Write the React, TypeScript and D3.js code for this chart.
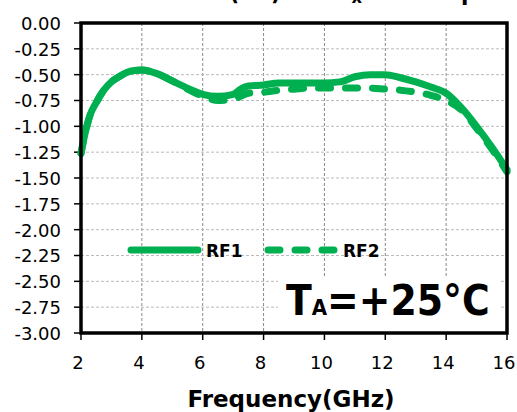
import React from "react";
import * as d3 from "d3";

const freqs = [2, 2.15, 2.3, 2.5, 2.75, 3, 3.25, 3.5, 3.75, 4, 4.5, 5, 5.5, 6, 6.5, 7, 7.25, 7.5, 8, 8.5, 9, 9.5, 10, 10.5, 11, 11.5, 12, 12.5, 13, 13.5, 14, 14.5, 15, 15.5, 16];
const rf1 = [-1.26, -1.05, -0.89, -0.77, -0.65, -0.57, -0.52, -0.48, -0.46, -0.455, -0.49, -0.56, -0.63, -0.69, -0.71, -0.69, -0.64, -0.61, -0.6, -0.58, -0.58, -0.58, -0.58, -0.57, -0.52, -0.5, -0.5, -0.53, -0.57, -0.62, -0.68, -0.82, -1.0, -1.2, -1.42];
const rf2 = [-1.26, -1.05, -0.89, -0.77, -0.65, -0.57, -0.52, -0.48, -0.46, -0.455, -0.49, -0.56, -0.64, -0.71, -0.75, -0.74, -0.71, -0.68, -0.67, -0.65, -0.64, -0.63, -0.63, -0.63, -0.63, -0.63, -0.64, -0.65, -0.67, -0.7, -0.75, -0.84, -1.02, -1.22, -1.44];

const xTicks = [2, 4, 6, 8, 10, 12, 14, 16];
const yTicks = [0, -0.25, -0.5, -0.75, -1, -1.25, -1.5, -1.75, -2, -2.25, -2.5, -2.75, -3];

const W = 517;
const H = 412;
const green = "#00B050";
const font = "'DejaVu Sans', Verdana, sans-serif";
const fontCond = "'DejaVu Sans Condensed', 'DejaVu Sans', sans-serif";

export default function App() {
  const x = d3.scaleLinear().domain([2, 16]).range([81, 507]);
  const y = d3.scaleLinear().domain([0, -3]).range([23, 333]);

  const line = d3
    .line<number>()
    .x((_, i) => x(freqs[i]))
    .y((d) => y(d))
    .curve(d3.curveMonotoneX);

  const [x0, x1] = x.range();
  const [y0, y1] = y.range();

  return (
    <svg width={W} height={H} style={{ position: "absolute", left: 0, top: 0, background: "#fff" }}>
      {/* title, cut off by the top edge as in the source image */}
      <text x={58} y={0} fontFamily={fontCond} fontWeight="bold" fontSize={24} fill="#000">
        Insertion Loss(dB) of RF<tspan fontSize={18} dy={3}>x</tspan>
        <tspan dy={-3}> vs. Temp</tspan>
      </text>

      {/* grid */}
      {xTicks.slice(1, -1).map((t) => (
        <line key={"gx" + t} x1={x(t)} x2={x(t)} y1={y0} y2={y1} stroke="#888" strokeWidth={1} strokeDasharray="3,2" />
      ))}
      {yTicks.slice(1, -1).map((t) => (
        <line key={"gy" + t} x1={x0} x2={x1} y1={y(t)} y2={y(t)} stroke="#bbb" strokeWidth={1} strokeDasharray="3,2" />
      ))}

      {/* ticks */}
      {yTicks.map((t) => (
        <g key={"ty" + t}>
          <line x1={x0 - 7} x2={x0} y1={y(t)} y2={y(t)} stroke="#000" strokeWidth={1.5} />
          <text x={61} y={y(t)} dy="0.38em" textAnchor="end" fontFamily={font} fontSize={18} fill="#000">
            {t.toFixed(2)}
          </text>
        </g>
      ))}
      {xTicks.map((t) => (
        <g key={"tx" + t}>
          <line x1={x(t)} x2={x(t)} y1={y1} y2={y1 + 7} stroke="#000" strokeWidth={1.5} />
          <text x={x(t) - 3} y={369} textAnchor="middle" fontFamily={font} fontSize={18} fill="#000">
            {t}
          </text>
        </g>
      ))}

      {/* TA label box */}
      <rect x={278} y={277} width={222} height={54} fill="#fff" />
      <text x={286} y={315} fontFamily={fontCond} fontWeight="bold" fontSize={42} fill="#000">
        T<tspan fontSize={22}>A</tspan>=+25°C
      </text>

      {/* series */}
      <path d={line(rf2) || ""} fill="none" stroke={green} strokeWidth={7} strokeLinecap="round" strokeDasharray="12,15" />
      <path d={line(rf1) || ""} fill="none" stroke={green} strokeWidth={7} strokeLinecap="round" strokeLinejoin="round" />

      {/* legend */}
      <line x1={131} x2={198} y1={250} y2={250} stroke={green} strokeWidth={7} strokeLinecap="round" />
      <text x={206} y={257} fontFamily={font} fontWeight="bold" fontSize={17} fill="#000">RF1</text>
      <line x1={268} x2={335} y1={250} y2={250} stroke={green} strokeWidth={7} strokeLinecap="round" strokeDasharray="12,15" />
      <text x={343} y={257} fontFamily={font} fontWeight="bold" fontSize={17} fill="#000">RF2</text>

      {/* frame */}
      <rect x={x0} y={y0} width={x1 - x0} height={y1 - y0} fill="none" stroke="#000" strokeWidth={3.5} />

      {/* axis title */}
      <text x={291} y={407} textAnchor="middle" fontFamily={font} fontWeight="bold" fontSize={23} fill="#000">
        Frequency(GHz)
      </text>
    </svg>
  );
}
